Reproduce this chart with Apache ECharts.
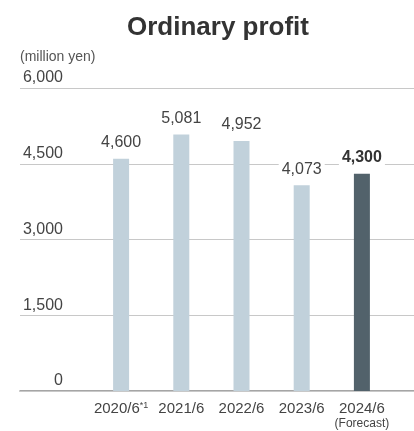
<!DOCTYPE html>
<html><head><meta charset="utf-8">
<script src="https://cdn.jsdelivr.net/npm/echarts@6/dist/echarts.min.js"></script>
<style>html,body{margin:0;padding:0;background:#fff}#c{width:414px;height:431px}</style>
</head><body><div id="c"></div>
<script>
const categories = ['2020/6', '2021/6', '2022/6', '2023/6', '2024/6'];
const values = [4600, 5081, 4952, 4073, 4300];
const yTicks = [0, 1500, 3000, 4500, 6000];
const FONT = "'Liberation Sans', Arial, sans-serif";
const light = '#c1d1db', dark = '#52626b';

const chart = echarts.init(document.getElementById('c'));
chart.setOption({
  animation: false,
  textStyle: { fontFamily: FONT },
  title: [
    { text: 'Ordinary profit', left: 218, textAlign: 'center', top: 15, padding: 0,
      textStyle: { fontSize: 26, fontWeight: 'bold', color: '#333', fontFamily: FONT } },
    { text: '(million yen)', left: 20, top: 50, padding: 0,
      textStyle: { fontSize: 14, fontWeight: 'normal', color: '#555', fontFamily: FONT } }
  ],
  grid: [
    { left: 20, right: 0, top: 88, bottom: 40 },
    { left: 91, right: 22, top: 88, bottom: 40 }
  ],
  xAxis: [
    { gridIndex: 0, type: 'category', data: [''],
      axisLine: { show: true, lineStyle: { color: '#888', width: 1.5 } },
      axisTick: { show: false }, axisLabel: { show: false } },
    { gridIndex: 1, type: 'category', data: categories,
      axisLine: { show: false }, axisTick: { show: false },
      axisLabel: {
        interval: 0, margin: 10, color: '#444', fontSize: 15, fontFamily: FONT,
        formatter: function (v, i) {
          if (i === 0) return '{a|' + v + '}{s|*1}';
          if (i === categories.length - 1) return '{a|' + v + '}\n{f|(Forecast)}';
          return '{a|' + v + '}';
        },
        rich: {
          a: { fontSize: 15, color: '#444', fontFamily: FONT, lineHeight: 16 },
          s: { fontSize: 9, color: '#444', fontFamily: FONT, verticalAlign: 'top', lineHeight: 16, padding: [0, 0, 6, 0] },
          f: { fontSize: 12, color: '#444', fontFamily: FONT, lineHeight: 13 }
        }
      } }
  ],
  yAxis: [
    { gridIndex: 0, type: 'value', min: 0, max: 6000, interval: 1500,
      axisLine: { show: false }, axisTick: { show: false },
      splitLine: { show: true, lineStyle: { color: '#c8c8c8', width: 1 } },
      axisLabel: {
        inside: true, margin: 43, align: 'right', verticalAlign: 'bottom',
        padding: [0, 0, 2, 0], fontSize: 16, color: '#444', fontFamily: FONT,
        formatter: function (v) { return yTicks.indexOf(v) >= 0 ? v.toLocaleString('en-US') : ''; }
      }, z: 1 },
    { gridIndex: 1, type: 'value', min: 0, max: 6000, interval: 1500, show: false }
  ],
  series: [{
    type: 'bar', xAxisIndex: 1, yAxisIndex: 1, barWidth: 16,
    data: values.map(function (v, i) {
      const last = i === values.length - 1;
      return {
        value: v,
        itemStyle: { color: last ? dark : light },
        label: last ? { fontWeight: 'bold', color: '#333' } : {}
      };
    }),
    label: {
      show: true, position: 'top', distance: 6,
      fontSize: 16, color: '#444', fontFamily: FONT,
      backgroundColor: '#fff', padding: [2, 3, 2, 3],
      formatter: function (p) { return p.value.toLocaleString('en-US'); }
    }
  }]
});
</script></body></html>
